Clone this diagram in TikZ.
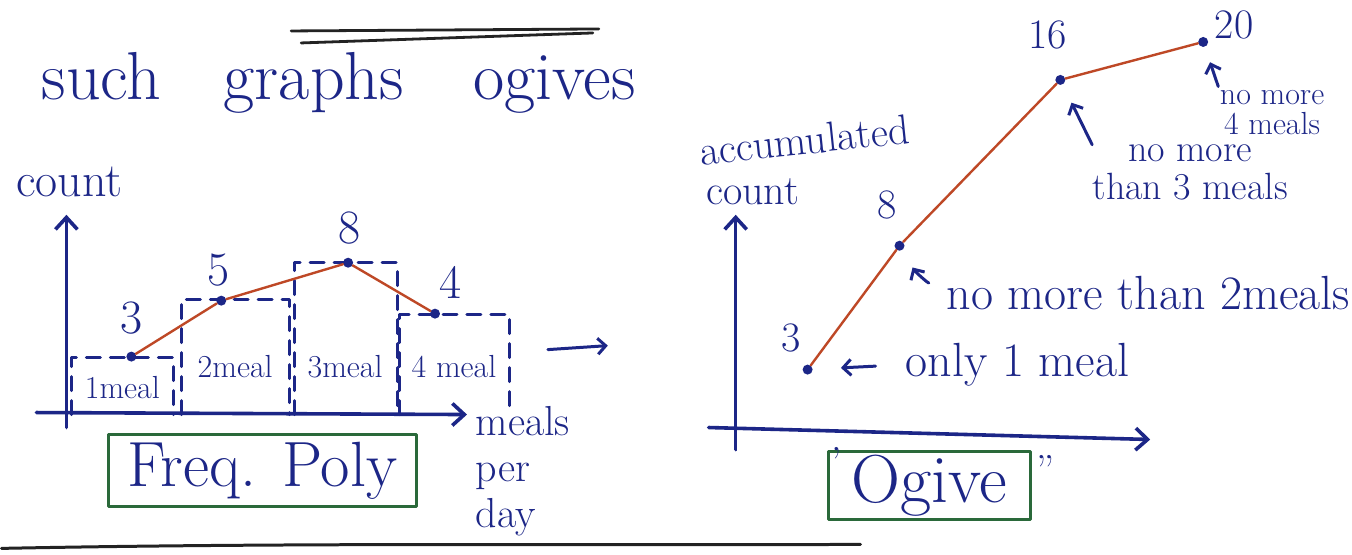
\documentclass[tikz,border=0pt]{standalone}
\usepackage{tikz}
\usetikzlibrary{arrows.meta}
\definecolor{inkblue}{RGB}{28,38,135}
\definecolor{inkred}{RGB}{190,72,38}
\definecolor{inkgreen}{RGB}{42,105,58}
\definecolor{inkblack}{RGB}{35,35,35}

\begin{document}
\begin{tikzpicture}[x=0.5pt,y=-0.5pt,line cap=round,line join=round]
	\tikzstyle{axis}=[inkblue,line width=1.8pt,-{Straight Barb[length=6pt,width=11pt,line width=1.8pt]}];
	\tikzstyle{arr}=[inkblue,line width=1.5pt,-{Straight Barb[length=4pt,width=8pt,line width=1.5pt]}];
	\tikzstyle{bar}=[inkblue,line width=1.5pt,dash pattern=on 7pt off 5pt];
	\tikzstyle{dot}=[circle,fill=inkblue,inner sep=0pt,minimum size=5pt];
	\tikzstyle{poly}=[inkred,line width=1.2pt];
	\tikzstyle{box}=[draw=inkgreen,line width=1.5pt,text=inkblue,inner sep=0pt];
	\tikzstyle{lab}=[inkblue,inner sep=0pt];
	\tikzstyle{huge}=[font=\fontsize{34}{38}\selectfont];
	\tikzstyle{big}=[font=\fontsize{24}{26}\selectfont];
	\tikzstyle{mid}=[font=\fontsize{21}{23}\selectfont];
	\tikzstyle{small}=[font=\fontsize{16}{18}\selectfont];

	\fill[white] (0,0) rectangle (1352,555);

	% heading
	\draw[inkblack,line width=1.4pt] (290,31) -- (598,29);
	\draw[inkblack,line width=1.4pt] (300,43) -- (592,33);
	\node[lab,huge,anchor=base west] (w1) at (40,100) {such};
	\node[lab,huge,anchor=base west] (w2) at (222,100) {graphs};
	\node[lab,huge,anchor=base west] (w3) at (472,100) {ogives};

	% frequency polygon
	\coordinate (ly0) at (65,428);
	\coordinate (ly1) at (65,215);
	\coordinate (lx0) at (35,413);
	\coordinate (lx1) at (466,415);
	\draw[axis] (ly0) -- (ly1);
	\draw[axis] (lx0) -- (lx1);
	\node[lab,big] (cnt) at (68,182) {count};

	\draw[bar] (70,415)  -- (70,358)  -- (172,358) -- (172,415);
	\draw[bar] (180,415) -- (180,300) -- (288,300) -- (288,415);
	\draw[bar] (293,415) -- (293,263) -- (396,263) -- (396,415);
	\draw[bar] (398,415) -- (398,315) -- (509,315) -- (509,415);

	\node[lab,small] (m1) at (121,388) {1meal};
	\node[lab,small] (m2) at (234,367) {2meal};
	\node[lab,small] (m3) at (344,367) {3meal};
	\node[lab,small] (m4) at (453,367) {4 meal};

	\node[dot] (p1) at (130,357) {};
	\node[dot] (p2) at (220,301) {};
	\node[dot] (p3) at (347,263) {};
	\node[dot] (p4) at (434,314) {};
	\draw[poly] (p1) -- (p2) -- (p3) -- (p4);
	\node[lab,big] (n1) at (130,318) {3};
	\node[lab,big] (n2) at (217,270) {5};
	\node[lab,big] (n3) at (348,228) {8};
	\node[lab,big] (n4) at (449,283) {4};

	\node[lab,mid,align=left] (mpd) at (522,472) {meals\\per\\day};
	\node[box,minimum width=154pt,minimum height=36pt,font=\fontsize{32}{34}\selectfont] (fp) at (261,471) {Freq. Poly};

	\coordinate (go0) at (547,350);
	\coordinate (go1) at (607,346);
	\draw[arr] (go0) -- (go1);

	% ogive
	\coordinate (ry0) at (735,450);
	\coordinate (ry1) at (735,215);
	\coordinate (rx0) at (708,428);
	\coordinate (rx1) at (1150,440);
	\draw[axis] (ry0) -- (ry1);
	\draw[axis] (rx0) -- (rx1);
	\node[lab,mid,rotate=6] (acc) at (804,140) {accumulated};
	\node[lab,mid] (acnt) at (752,192) {count};

	\node[dot] (q1) at (807,370) {};
	\node[dot] (q2) at (899,246) {};
	\node[dot] (q3) at (1060,80) {};
	\node[dot] (q4) at (1203,42) {};
	\draw[poly] (q1) -- (q2) -- (q3) -- (q4);
	\node[lab,mid] (k1) at (790,338) {3};
	\node[lab,mid] (k2) at (887,205) {8};
	\node[lab,mid] (k3) at (1047,35) {16};
	\node[lab,mid] (k4) at (1234,25) {20};

	\node[lab,big,anchor=west] (only) at (905,365) {only 1 meal};
	\node[lab,big] (more2) at (1148,293) {no more than 2meals};
	\node[lab,align=center,font=\fontsize{19}{19}\selectfont] (more3) at (1190,173) {no more\\than 3 meals};
	\node[lab,align=center,font=\fontsize{16}{15}\selectfont] (more4) at (1272,113) {no more\\4 meals};
	\draw[arr,shorten <=15pt,shorten >=14pt] (only.west) -- (q1);
	\draw[arr,shorten <=10pt,shorten >=10pt] (more2.west) to[bend left=15] (q2);
	\draw[arr,shorten >=10pt] (more3.north west) -- (q3);
	\draw[arr,shorten <=2pt,shorten >=8pt] (more4.north west) -- (q4);

	\node[box,minimum width=101pt,minimum height=34pt,font=\fontsize{34}{36}\selectfont] (og) at (929,486) {Ogive};
	\node[lab,mid] (oq0) at (836,462) {'};
	\node[lab,mid] (oq1) at (1045,470) {''};

	\draw[inkblack,line width=1.5pt] (0,549) .. controls (300,543) and (600,546) .. (860,545);
\end{tikzpicture}
\end{document}
